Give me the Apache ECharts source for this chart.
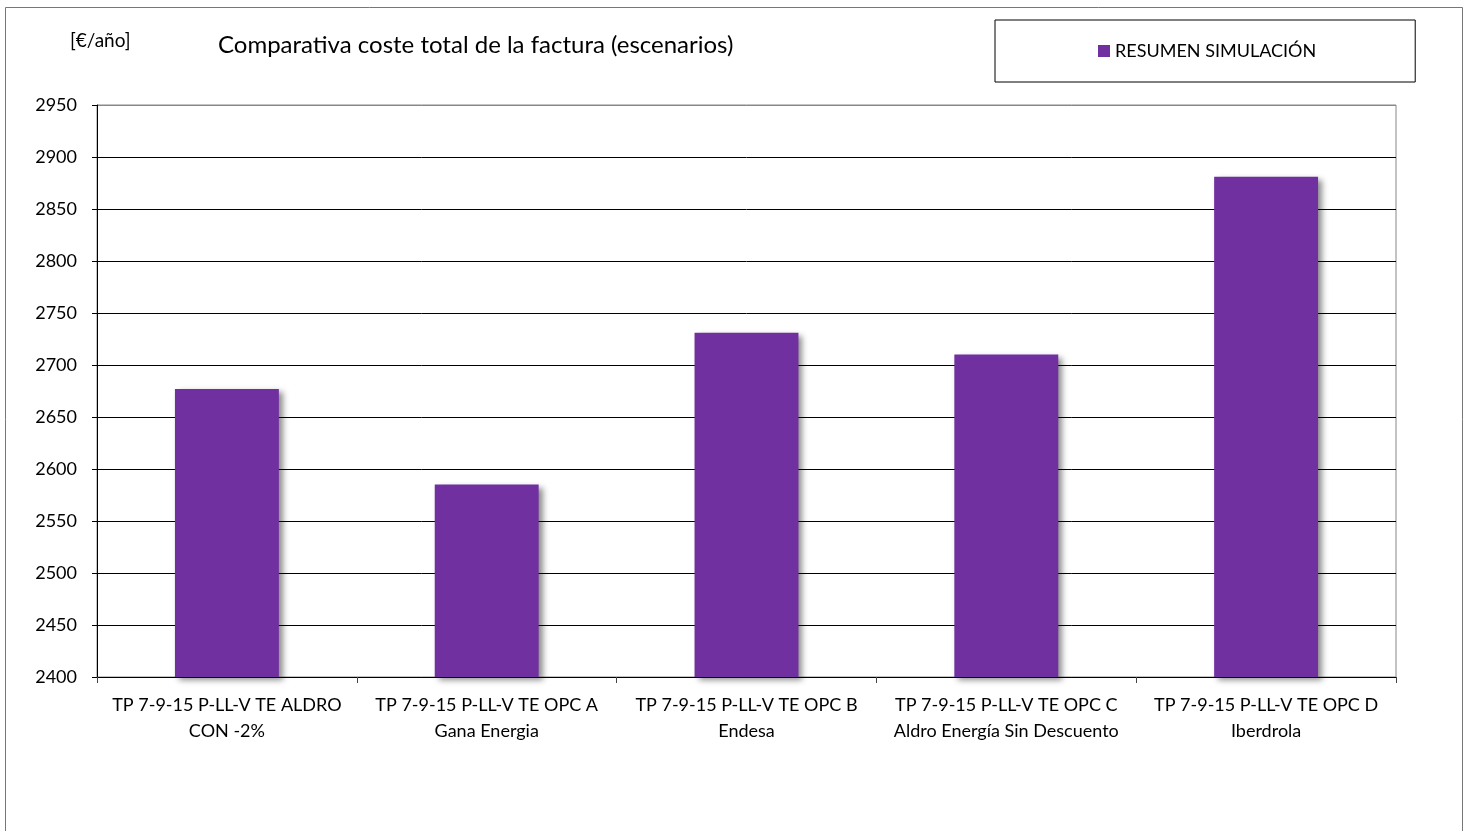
<!DOCTYPE html>
<html>
<head>
<meta charset="utf-8">
<script src="https://cdn.jsdelivr.net/npm/echarts@6/dist/echarts.min.js"></script>
<style>
  html, body { margin: 0; padding: 0; background: #fff; }
  #chart { width: 1469px; height: 831px; }
</style>
</head>
<body>
<div id="chart"></div>
<script>
  // escenarios comparados
  var categorias = [
    'TP 7-9-15 P-LL-V TE ALDRO\nCON -2%',
    'TP 7-9-15 P-LL-V TE OPC A\nGana Energia',
    'TP 7-9-15 P-LL-V TE OPC B\nEndesa',
    'TP 7-9-15 P-LL-V TE OPC C\nAldro Energía Sin Descuento',
    'TP 7-9-15 P-LL-V TE OPC D\nIberdrola'
  ]
  // coste total anual [€/año]
  var costeTotal = [2677, 2585, 2731, 2710, 2881]
  var serieNombre = 'RESUMEN SIMULACIÓN'
  var titulo = 'Comparativa coste total de la factura (escenarios)'
  var unidad = '[€/año]'

  var fuente = 'Lato, "Open Sans", sans-serif'
  var chart = echarts.init(document.getElementById('chart'))

  // color por línea de rejilla: la última (2950) en gris como el borde del área
  var colLineas = []
  for (var i = 0; i < 11; i++) colLineas.push('#000')
  colLineas.push('#888')

  chart.setOption({
    animation: false,
    textStyle: { fontFamily: fuente },
    title: [
      {
        text: titulo,
        left: 213,
        top: 28,
        textStyle: { fontFamily: fuente, fontSize: 24, fontWeight: 'normal', color: '#000' }
      },
      {
        text: unidad,
        left: 65,
        top: 26,
        textStyle: { fontFamily: fuente, fontSize: 19, fontWeight: 'normal', color: '#000' }
      }
    ],
    legend: {
      left: 995,
      top: 20,
      padding: [22, 99, 22, 103],
      borderColor: '#000',
      borderWidth: 1,
      icon: 'rect',
      itemWidth: 12,
      itemHeight: 12,
      itemGap: 4,
      textStyle: { fontFamily: fuente, fontSize: 18, color: '#000' },
      data: [serieNombre]
    },
    graphic: [
      {
        type: 'rect',
        left: 3,
        top: 5,
        shape: { width: 1457, height: 840 },
        style: { fill: null, stroke: '#777', lineWidth: 1 },
        silent: true
      }
    ],
    grid: {
      left: 97,
      right: 73,
      top: 105,
      bottom: 154,
      show: true,
      borderColor: '#888',
      borderWidth: 1
    },
    xAxis: {
      type: 'category',
      data: categorias,
      axisLine: { lineStyle: { color: '#000' } },
      axisTick: { show: true, length: 6, lineStyle: { color: '#444' } },
      axisLabel: {
        color: '#000',
        fontSize: 18,
        fontFamily: fuente,
        lineHeight: 26,
        margin: 15,
        interval: 0
      }
    },
    yAxis: {
      type: 'value',
      min: 2400,
      max: 2950,
      interval: 50,
      axisLine: { show: true, lineStyle: { color: '#000' } },
      axisTick: { show: true, length: 5, lineStyle: { color: '#000' } },
      axisLabel: {
        color: '#000',
        fontSize: 18,
        fontFamily: fuente,
        margin: 20,
        formatter: function (v) { return String(v) }
      },
      splitLine: { lineStyle: { color: colLineas, width: 1 } }
    },
    series: [
      {
        name: serieNombre,
        type: 'bar',
        data: costeTotal,
        barWidth: '40%',
        itemStyle: {
          color: '#7030A0',
          shadowColor: 'rgba(0,0,0,0.45)',
          shadowBlur: 6,
          shadowOffsetX: 4,
          shadowOffsetY: 3
        }
      }
    ]
  })
</script>
</body>
</html>
